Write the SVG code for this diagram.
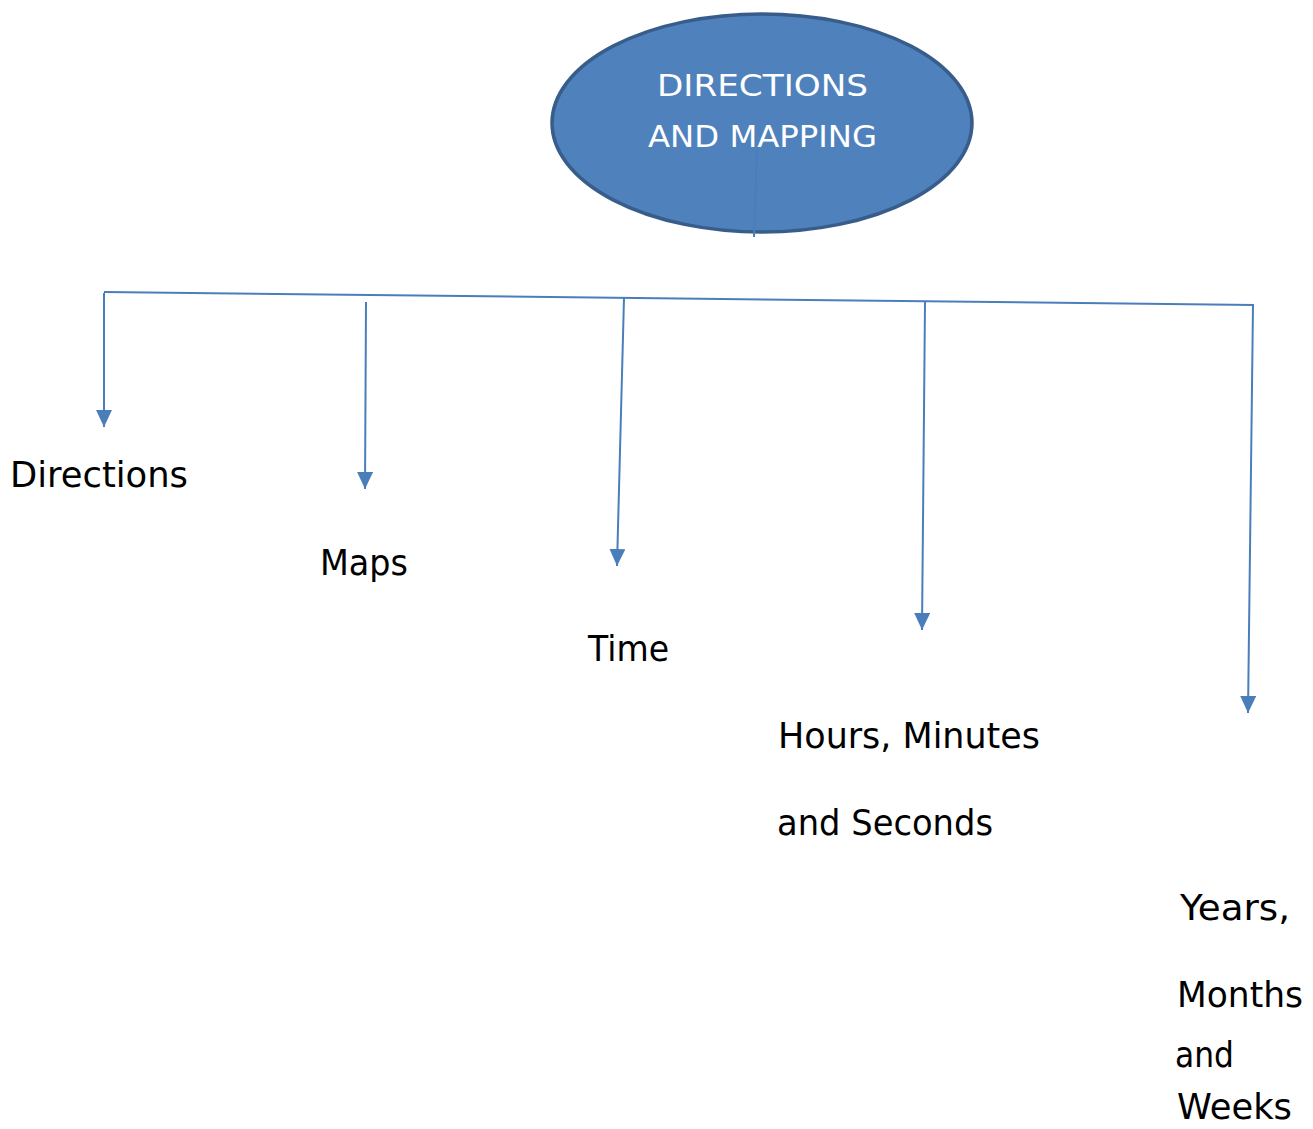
<svg xmlns="http://www.w3.org/2000/svg" width="1313" height="1129" viewBox="0 0 1313 1129">
<style>
.conn{stroke:#4A7EBB;stroke-width:2;fill:none}
.lbl{font-family:"Comic Sans MS","DejaVu Sans",sans-serif;font-size:35px;fill:#000}
.title{font-family:"Comic Sans MS","DejaVu Sans",sans-serif;font-size:31px;fill:#fff}
</style>
<defs>
<marker id="ah" viewBox="0 0 17 16" refX="17" refY="8" markerWidth="17" markerHeight="16" markerUnits="userSpaceOnUse" orient="auto">
<path d="M0,0 L17,8 L0,16 z" fill="#4A7EBB"/>
</marker>
</defs>
<rect width="1313" height="1129" fill="#fff"/>
<g id="root">
<ellipse cx="762" cy="123" rx="210" ry="109" fill="#4F81BD" stroke="#385D8A" stroke-width="3.5"/>
<text class="title" x="657" y="96" textLength="211" lengthAdjust="spacingAndGlyphs">DIRECTIONS</text>
<text class="title" x="648" y="147" textLength="229" lengthAdjust="spacingAndGlyphs">AND MAPPING</text>
</g>
<g id="connectors">
<line class="conn" x1="757" y1="150" x2="754" y2="237"/>
<line class="conn" x1="104" y1="292" x2="1254" y2="305"/>
<line class="conn" x1="104" y1="293" x2="104" y2="427" marker-end="url(#ah)"/>
<line class="conn" x1="366" y1="302" x2="365" y2="489" marker-end="url(#ah)"/>
<line class="conn" x1="624" y1="298" x2="617" y2="566" marker-end="url(#ah)"/>
<line class="conn" x1="925" y1="302" x2="922" y2="630" marker-end="url(#ah)"/>
<line class="conn" x1="1253" y1="305" x2="1248" y2="713" marker-end="url(#ah)"/>
</g>
<g id="directions"><text class="lbl" x="10" y="487" textLength="178" lengthAdjust="spacingAndGlyphs">Directions</text></g>
<g id="maps"><text class="lbl" x="320" y="575" textLength="88" lengthAdjust="spacingAndGlyphs">Maps</text></g>
<g id="time"><text class="lbl" x="588" y="661" textLength="81" lengthAdjust="spacingAndGlyphs">Time</text></g>
<g id="hours">
<text class="lbl" x="778" y="748" textLength="262" lengthAdjust="spacingAndGlyphs">Hours, Minutes</text>
<text class="lbl" x="777" y="835" textLength="216" lengthAdjust="spacingAndGlyphs">and Seconds</text>
</g>
<g id="years">
<text class="lbl" x="1180" y="920" textLength="110" lengthAdjust="spacingAndGlyphs">Years,</text>
<text class="lbl" x="1177" y="1007" textLength="126" lengthAdjust="spacingAndGlyphs">Months</text>
<text class="lbl" x="1175" y="1067" textLength="59" lengthAdjust="spacingAndGlyphs">and</text>
<text class="lbl" x="1177" y="1119" textLength="115" lengthAdjust="spacingAndGlyphs">Weeks</text>
</g>
</svg>
